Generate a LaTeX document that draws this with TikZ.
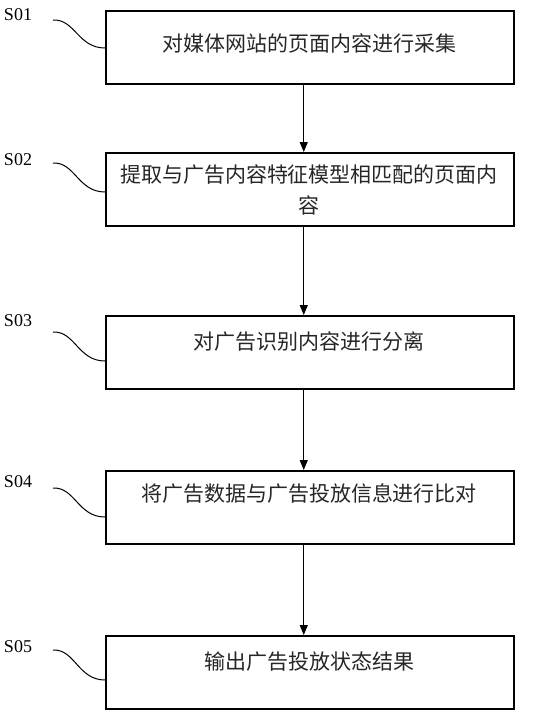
\documentclass[tikz,border=0pt]{standalone}
\usepackage{fontspec}
\setmainfont{Liberation Serif}
\newfontfamily\cjk{Noto Sans CJK SC}
\usetikzlibrary{arrows.meta,calc}
\begin{document}
\begin{tikzpicture}[x=1pt,y=-1pt,
  box/.style={draw,line width=1.5pt,minimum width=408pt,minimum height=73pt,anchor=north west,inner sep=0pt},
  txt/.style={font=\cjk\fontsize{21}{31}\selectfont,align=center,inner sep=0pt,text=black!85},
  lab/.style={font=\fontsize{18}{18}\selectfont,inner sep=0pt},
  lead/.style={line width=1pt},
  arr/.style={line width=1.2pt,-{Triangle[length=10pt,width=8pt]}}]
\useasboundingbox (0,0) rectangle (536,718);
% boxes
\node[box] (b1) at (105,10) {};
\node[box] (b2) at (105,152) {};
\node[box] (b3) at (105,315) {};
\node[box] (b4) at (105,470) {};
\node[box] (b5) at (105,635) {};
% texts
\node[txt] (t1) at (309,43) {对媒体网站的页面内容进行采集};
\node[txt] (t2) at (309,189.5) {提取与广告内容特征模型相匹配的页面内\\容};
\node[txt] (t3) at (309,342) {对广告识别内容进行分离};
\node[txt] (t4) at (309,494) {将广告数据与广告投放信息进行比对};
\node[txt] (t5) at (309,662) {输出广告投放状态结果};
% labels
\node[lab] (s1) at (18,15) {S01};
\node[lab] (s2) at (18,160) {S02};
\node[lab] (s3) at (18,321) {S03};
\node[lab] (s4) at (18,482) {S04};
\node[lab] (s5) at (18,647) {S05};
% leader start / end points
\coordinate (a1) at (53,20);  \coordinate (e1) at ($(b1.north west)+(0,38)$);
\coordinate (a2) at (53,163); \coordinate (e2) at ($(b2.north west)+(0,40)$);
\coordinate (a3) at (53,332); \coordinate (e3) at ($(b3.north west)+(0,46)$);
\coordinate (a4) at (53,488); \coordinate (e4) at ($(b4.north west)+(0,47)$);
\coordinate (a5) at (53,650); \coordinate (e5) at ($(b5.north west)+(0,45)$);
\foreach \i in {1,...,5}{
  \draw[lead] (a\i) .. controls ($(a\i)+(22,-1)$) and ($(e\i)+(-27,0)$) .. (e\i);
}
% arrows
\foreach \i/\j in {1/2,2/3,3/4,4/5}{
  \draw[arr] ([xshift=-6pt]b\i.south) -- ([xshift=-6pt]b\j.north);
}
\end{tikzpicture}
\end{document}
